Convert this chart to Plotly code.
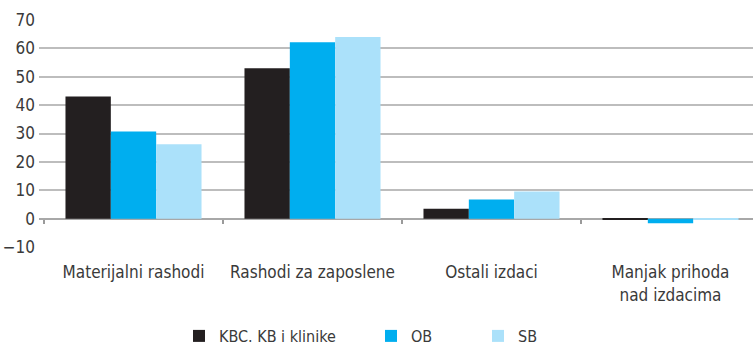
import plotly.graph_objects as go

categories = ["Materijalni rashodi", "Rashodi za zaposlene", "Ostali izdaci", "Manjak prihoda<br>nad izdacima"]
kbc = [43, 53, 3.5, -0.3]
ob = [30.7, 62.2, 6.7, -1.6]
sb = [26.2, 64, 9.6, -0.2]
series = [("KBC. KB i klinike", kbc, "#231f20"), ("OB", ob, "#00aeef"), ("SB", sb, "#abe1fa")]
y_ticks = [-10, 0, 10, 20, 30, 40, 50, 60, 70]

FONT = "DejaVu Sans Condensed"
TXT = "#3a3a3a"

fig = go.Figure()
for i, (name, vals, col) in enumerate(series):
    fig.add_trace(go.Bar(
        x=categories, y=vals, name=name, marker=dict(color=col, line=dict(width=0)),
        legend="legend" if i == 0 else f"legend{i+1}",
    ))

# invisible helper trace so the zero-line axis with boundary ticks is drawn
fig.add_trace(go.Scatter(x=categories, y=[0] * 4, xaxis="x2", mode="markers",
                         marker=dict(opacity=0), showlegend=False, hoverinfo="skip"))

left = -0.5 - 5 / 179
right = -0.5 + (753 - 44) / 179

legend_x = [0.2377, 0.4927, 0.6348]
legend_common = dict(orientation="h", yanchor="middle", xanchor="left", y=0.04,
                     font=dict(family=FONT, size=16, color=TXT), bgcolor="rgba(0,0,0,0)",
                     itemwidth=30, xref="container", yref="container")
layouts = {}
for i, lx in enumerate(legend_x):
    key = "legend" if i == 0 else f"legend{i+1}"
    layouts[key] = dict(legend_common, x=lx)

fig.update_layout(
    width=753, height=350,
    margin=dict(l=39, r=0, t=20, b=103),
    plot_bgcolor="white", paper_bgcolor="white",
    barmode="group", bargap=0.24, bargroupgap=0,
    font=dict(family=FONT, size=17, color=TXT),
    xaxis=dict(range=[left, right], showgrid=False, zeroline=False, showline=False,
               ticks="outside", ticklen=10, tickcolor="rgba(0,0,0,0)",
               tickfont=dict(family=FONT, size=17, color=TXT)),
    xaxis2=dict(overlaying="x", matches="x", anchor="free", position=0.125, side="bottom",
                showgrid=False, zeroline=False, showline=False, ticks="outside",
                tickson="boundaries", ticklen=4, tickwidth=1.5, tickcolor="#9a9a9a",
                showticklabels=False),
    yaxis=dict(range=[-10, 70], tickvals=y_ticks, showgrid=True, gridcolor="#bdbdbd",
               gridwidth=1.5, zeroline=True, zerolinecolor="#a8a8a8", zerolinewidth=1.5,
               ticks="", ticklabelstandoff=3,
               tickfont=dict(family=FONT, size=17, color=TXT)),
    **layouts,
)

fig.write_html("out.html")
